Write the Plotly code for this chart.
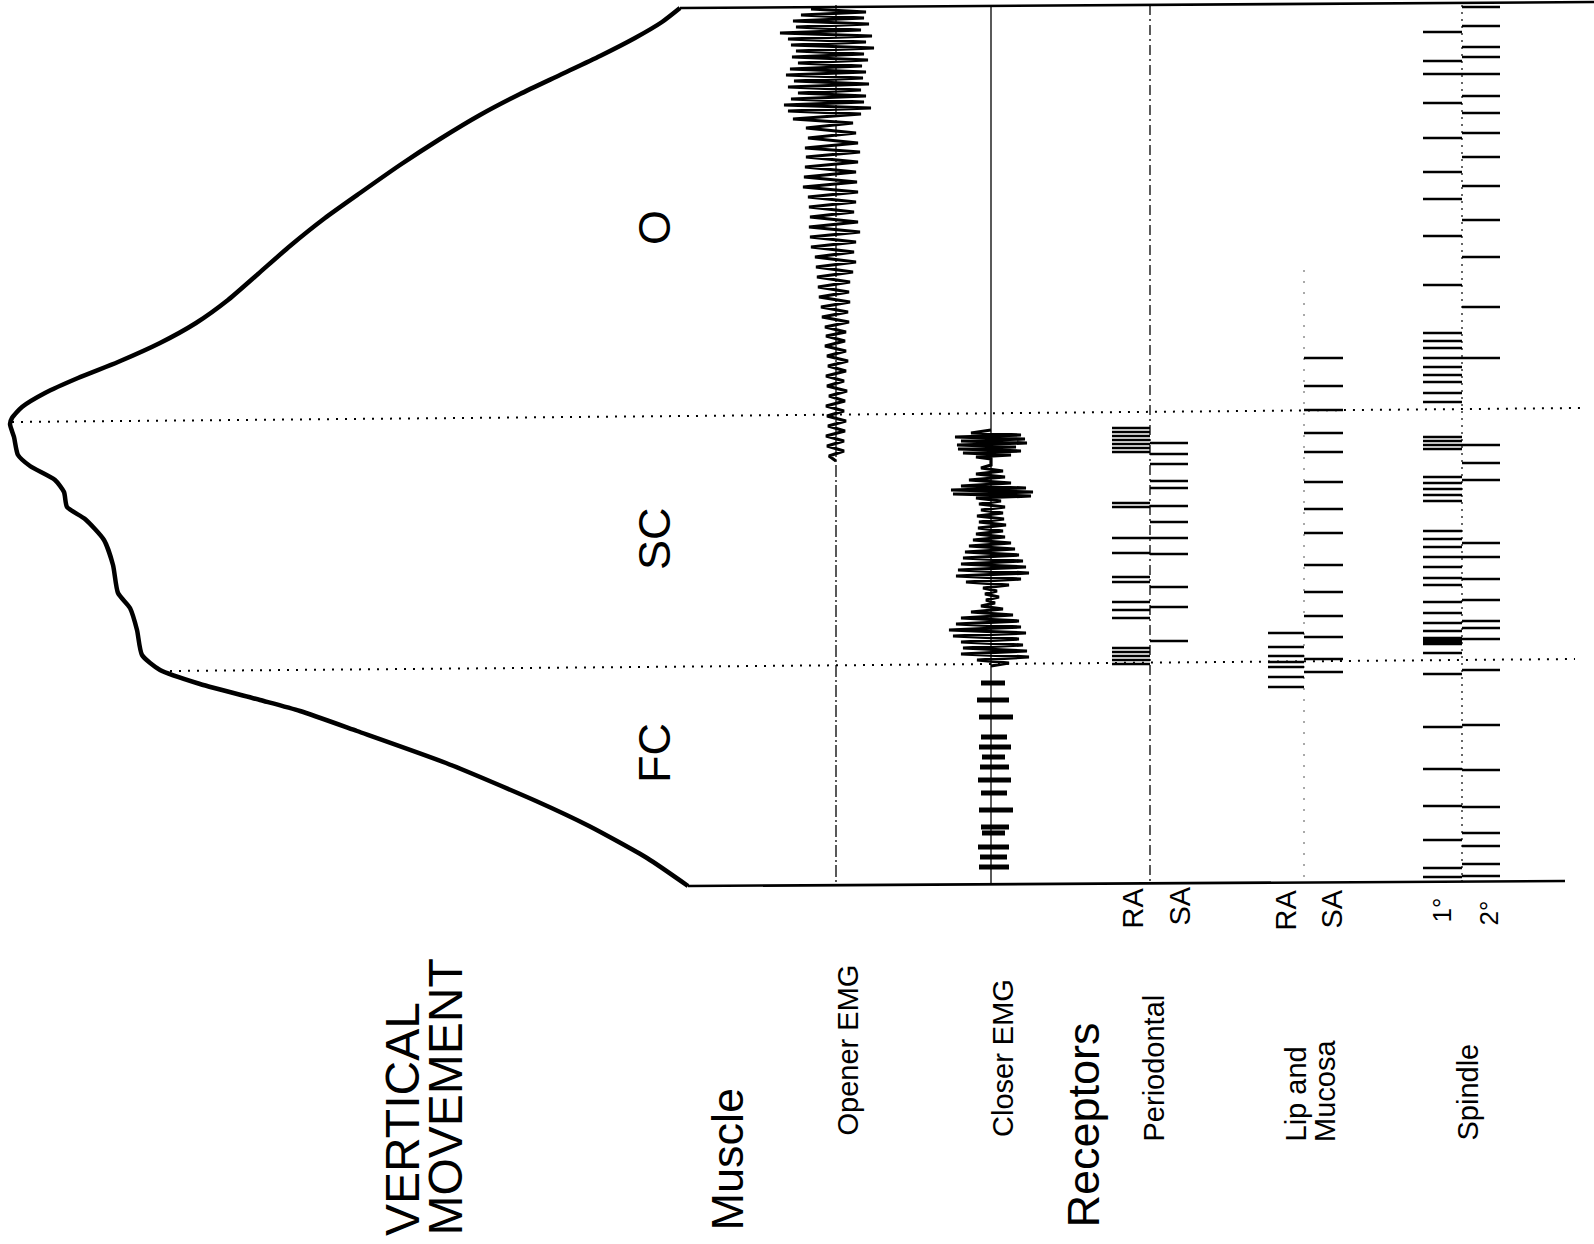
import plotly.graph_objects as go

W, H = 1594, 1244

# ---------------- data ----------------
# jaw vertical movement trace (time runs down the page)
jaw_time = [8, 22, 38, 56, 75, 94, 115, 139, 165, 193, 218, 246, 274, 300, 323, 343, 362, 378,
            393, 407, 418, 424,
            437, 455, 466, 480, 492, 507, 519, 540, 565, 593, 608, 630, 655, 670, 684, 700, 711,
            731, 763, 801, 826, 858, 886]
jaw_pos = [680, 662, 635, 600, 560, 520, 480, 440, 400, 360, 325, 290, 258, 228, 196, 160, 118, 78,
           45, 22, 12, 10,
           14, 18, 30, 55, 64, 67, 85, 104, 113, 118, 130, 137, 142, 160, 200, 260, 300,
           357, 446, 536, 589, 647, 688]

# opener EMG (signed deflection from its baseline)
opener_time = [9, 12, 15, 18, 21, 24, 27, 30, 33, 36, 39, 42, 45, 48, 51, 54, 57, 60, 63, 66, 69,
               72, 75, 78, 81, 84, 87, 90, 93, 96, 99, 102, 105, 108, 111,
               114, 119, 123, 128, 133, 138, 143, 148, 152, 157, 162, 167, 172, 177, 182, 187,
               192, 197, 202, 207, 212, 217, 222, 227, 232, 237, 242, 247, 252, 257, 262, 267,
               272, 277, 282, 287, 292, 297, 302, 307, 312, 317, 322, 327, 332,
               336, 341, 346, 351, 356, 361, 366, 371, 376, 381, 386, 391, 396, 401, 406, 411,
               416, 421, 426, 431, 436, 441, 446, 451, 456, 461]
opener_amp = [-25, 30, -35, 28, -43, 33, -40, 25, -56, 36, -48, 30, -45, 38, -40, 28, -44, 32, -38,
              26, -46, 30, -50, 27, -42, 33, -48, 25, -38, 30, -45, 28, -52, 35, -48,
              25, -43, 17, -30, 20, -28, 22, -31, 24, -30, 22, -31, 20, -32, 21, -33,
              22, -28, 20, -27, 18, -26, 22, -27, 24, -26, 20, -25, 18, -21, 20, -20,
              17, -19, 14, -18, 13, -17, 14, -15, 12, -14, 13, -11, 10,
              -10, 9, -11, 10, -9, 12, -8, 10, -10, 8, -9, 11, -7, 9, -10, 8,
              -9, 10, -8, 9, -10, 8, -9, 8, -7, 0]

# closer EMG bursts (signed deflection from its baseline)
closer_time = [430, 433, 435, 437, 439, 441, 443, 445, 447, 449, 451, 453, 455, 457, 459,
               465, 468, 471, 474, 477, 480, 483, 486, 488, 490, 492, 494, 496, 498,
               501, 504, 507, 510, 513, 516, 519, 522, 525, 528, 531, 534, 537,
               540, 543, 546, 549, 552, 555, 558, 561, 564, 567, 570, 573, 576, 579, 582, 585,
               588, 591, 594, 597, 600, 603,
               606, 609, 612, 615, 618, 621, 624, 627, 630, 633, 636, 639,
               642, 645, 648, 651, 654, 657, 660, 663, 666]
closer_amp = [0, -20, 30, -36, 34, -30, 36, -34, 25, -33, 30, -28, 20, -15, 0,
              0, -10, 12, -15, 14, -22, 20, -30, 35, -40, 42, -38, 40, -15,
              10, -12, 14, -10, 12, -14, 13, -12, 15, -13, 12, -15, 14,
              -18, 20, -22, 24, -26, 28, -28, 32, -30, 35, -33, 38, -35, 30, -25, 18,
              -8, 6, -6, 8, -5, 4,
              -10, 12, -20, 22, -30, 28, -35, 30, -42, 35, -38, 28,
              -30, 32, -28, 36, -30, 38, -14, 18, 0]
# late small closer bursts
closer_late_time = [683, 700, 717, 737, 747, 757, 767, 780, 793, 810, 827, 833, 847, 857, 867]
closer_late_lo = [-10, -14, -12, -10, -12, -9, -11, -13, -10, -12, -10, -9, -13, -11, -12]
closer_late_hi = [14, 18, 22, 16, 20, 14, 18, 20, 16, 22, 18, 14, 18, 16, 18]

# receptor discharges (spike times)
perio_ra = [428, 432, 436, 440, 444, 448, 452, 503, 507, 538, 553, 577, 582, 602, 610, 618,
            648, 652, 656, 660, 664]
perio_sa = [443, 454, 464, 481, 488, 506, 522, 538, 554, 587, 607, 641]
lip_ra = [633, 647, 656, 662, 667, 677, 687]
lip_sa = [358, 386, 410, 433, 452, 482, 509, 533, 565, 592, 616, 637, 659, 672]
spindle_1 = [32, 61, 74, 103, 138, 172, 199, 236, 285, 333, 341, 348, 358, 367, 375, 382, 393,
             402, 437, 441, 445, 449, 477, 483, 489, 495, 501, 531, 539, 547, 557, 567, 578,
             585, 602, 613, 623, 631, 638, 640, 642, 644, 653, 674, 727, 769, 806, 840, 868, 877]
spindle_2 = [7, 26, 47, 57, 74, 96, 113, 133, 157, 186, 220, 257, 307, 358, 445, 463, 480,
             543, 557, 579, 600, 621, 628, 639, 670, 725, 770, 807, 833, 846, 864, 876]

phase_labels = ["O", "SC", "FC"]
row_titles = ["VERTICAL", "MOVEMENT", "Muscle", "Receptors"]
channel_labels = ["Opener EMG", "Closer EMG", "Periodontal", "Lip and", "Mucosa", "Spindle"]
sub_labels = ["RA", "SA", "RA", "SA", "1°", "2°"]

# ---------------- layout constants ----------------
OPENER_X, CLOSER_X = 836, 991
PERIO_X, LIP_X, SPIN_X = 1150, 1304, 1462
T_TOP, T_BOT = 5, 885
INK = "black"
FONT = "Liberation Sans, Arial, Helvetica, sans-serif"

fig = go.Figure()


def add_line(x, y, width=2, dash="solid", shape="linear", color=INK, smoothing=0):
    line = dict(color=color, width=width, dash=dash, shape=shape)
    if shape == "spline":
        line["smoothing"] = smoothing
    fig.add_trace(go.Scatter(x=x, y=y, mode="lines", line=line, hoverinfo="skip"))


def spike_train(times, base, length, width=2.4):
    xs, ys = [], []
    for t in times:
        xs += [base, base + length, None]
        ys += [t, t, None]
    add_line(xs, ys, width=width)


# channel baselines
add_line([OPENER_X, OPENER_X], [T_TOP, T_BOT], width=1.3, dash="12px,3px,2px,3px")
add_line([CLOSER_X, CLOSER_X], [T_TOP, T_BOT], width=1.3)
add_line([PERIO_X, PERIO_X], [T_TOP, T_BOT], width=1.3, dash="10px,4px,2px,4px")
add_line([LIP_X, LIP_X], [270, T_BOT], width=1.0, dash="2px,9px", color="#555")
add_line([SPIN_X, SPIN_X], [T_TOP, T_BOT], width=1.2, dash="2px,5px")

# horizontal dotted phase markers and frame
add_line([12, 1580], [422, 408], width=2, dash="2px,7px")
add_line([170, 1575], [671, 659], width=2, dash="2px,7px")
add_line([680, 1594], [8, 2], width=2.6)
add_line([688, 1565], [886, 881], width=2.6)

# jaw movement
add_line(jaw_pos, jaw_time, width=4.5, shape="spline", smoothing=0.6)

# EMGs
add_line([OPENER_X + a for a in opener_amp], opener_time, width=3.2)
add_line([CLOSER_X + a for a in closer_amp], closer_time, width=3.2)
xs, ys = [], []
for t, lo, hi in zip(closer_late_time, closer_late_lo, closer_late_hi):
    xs += [CLOSER_X + lo, CLOSER_X + hi, None]
    ys += [t, t, None]
add_line(xs, ys, width=5)

# receptor spike trains
spike_train(perio_ra, PERIO_X, -38)
spike_train(perio_sa, PERIO_X, 38)
spike_train(lip_ra, LIP_X, -36)
spike_train(lip_sa, LIP_X, 39)
spike_train(spindle_1, SPIN_X, -39)
spike_train(spindle_2, SPIN_X, 38)

# ---------------- labels ----------------
ann = []


def label(text, x, y, size, yanchor="bottom"):
    ann.append(dict(text=text, x=x, y=y, xref="x", yref="y", showarrow=False, textangle=-90,
                    xanchor="center", yanchor=yanchor, align="left",
                    font=dict(family=FONT, size=size, color=INK)))


# phase labels inside the plot
label(phase_labels[0], 654, 228, 45, "middle")
label(phase_labels[1], 654, 539, 45, "middle")
label(phase_labels[2], 654, 753, 45, "middle")

label(row_titles[0], 402, 1238, 48)
label(row_titles[1], 445, 1238, 48)
label(row_titles[2], 727, 1233, 45)
label(row_titles[3], 1083, 1230, 45)

label(channel_labels[0], 847, 1138, 29)
label(channel_labels[1], 1003, 1139, 29)
label(channel_labels[2], 1153, 1144, 29)
label(channel_labels[3], 1295, 1144, 29)
label(channel_labels[4], 1325, 1144, 29)
label(channel_labels[5], 1467, 1143, 29)

label(sub_labels[0], 1132, 931, 29)
label(sub_labels[1], 1179, 928, 29)
label(sub_labels[2], 1285, 933, 29)
label(sub_labels[3], 1331, 931, 29)
label(sub_labels[4], 1441, 925, 26)
label(sub_labels[5], 1488, 928, 26)

fig.update_layout(
    width=W, height=H,
    margin=dict(l=0, r=0, t=0, b=0),
    paper_bgcolor="white", plot_bgcolor="white",
    showlegend=False,
    xaxis=dict(range=[0, W], visible=False, fixedrange=True),
    yaxis=dict(range=[H, 0], visible=False, fixedrange=True),
    annotations=ann,
)

fig.write_html("out.html", post_script="document.body.style.margin='0px';",
               config={"displayModeBar": False})
